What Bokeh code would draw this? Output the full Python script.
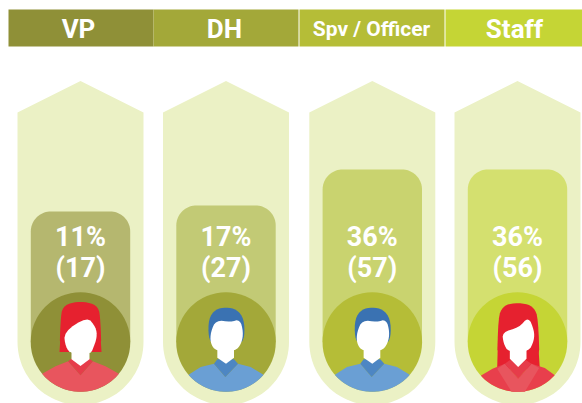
import numpy as np
from bokeh.plotting import figure, ColumnDataSource
from bokeh.models import Range1d
from bokeh.core.properties import value
from bokeh.embed import file_html
from bokeh.resources import INLINE

# Data
groups = ["VP", "DH", "Spv / Officer", "Staff"]
percent = [11, 17, 36, 36]
counts = [17, 27, 57, 56]
fill_top = [211, 205, 169, 169]   # top of each inner bar, on the pixel-like y scale

# Styles
header_left = [8, 153, 299, 445]
header_right = [153, 298, 444, 582]
header_cx = [78, 224, 371, 514]
header_size = ["26px", "26px", "21px", "26px"]
head_col = ["#8F9037", "#A3A839", "#B5BD37", "#C5D535"]
bar_col = ["#B5B76F", "#C2CA75", "#C9D36F", "#D4E06F"]
cx = [80, 225.5, 371.8, 517]
gender = ["w", "m", "m", "wl"]
SHELL = "#EBF1C5"
CY, R_IN = 341.5, 49.8
HALF_SHELL, APEX, SHOULDER = 63, 80.5, 112
HALF_BAR = 49.7
CORNER = 20

p = figure(width=582, height=403, x_range=Range1d(0, 582), y_range=Range1d(403, 0),
           toolbar_location=None, output_backend="svg", min_border=0,
           outline_line_color=None, background_fill_color="white", border_fill_color="white")
p.xaxis.visible = False
p.yaxis.visible = False
p.grid.visible = False


def arc(c_x, c_y, r, a0, a1, n=50):
    t = np.radians(np.linspace(a0, a1, n))
    return list(c_x + r * np.cos(t)), list(c_y + r * np.sin(t))


def chaikin(pts, it=2):
    pts = np.array(pts, float)
    for _ in range(it):
        q = np.roll(pts, -1, axis=0)
        pts = np.stack([0.75 * pts + 0.25 * q, 0.25 * pts + 0.75 * q], axis=1).reshape(-1, 2)
    return pts


def shape(c, pts, color, smooth=False):
    pts = chaikin(pts) if smooth else np.array(pts, float)
    p.patch(c + pts[:, 0] / 3, CY + pts[:, 1] / 3, fill_color=color, line_color=None)


def bust(c, pts, color):
    # shoulders follow the given points, the lower edge follows the circle
    pts = np.array(pts, float)
    a0 = np.degrees(np.arctan2(pts[-1, 1], pts[-1, 0]))
    a1 = np.degrees(np.arctan2(pts[0, 1], pts[0, 0]))
    ax, ay = arc(0, 0, R_IN * 3, a0, a1)
    xs = np.r_[pts[:, 0], ax]
    ys = np.r_[pts[:, 1], ay]
    p.patch(c + xs / 3, CY + ys / 3, fill_color=color, line_color=None)


def woman_short(c):
    shape(c, [(-63, 30), (-60, -65), (-54, -106), (-22, -120), (22, -120), (54, -106), (60, -65), (63, 30)], "#E6212F", True)
    shape(c, [(-63, 30), (-60, -20), (60, -20), (63, 30)], "#E6212F")
    bust(c, [(-115, 95), (-75, 73), (-37, 58), (0, 100), (37, 58), (75, 73), (115, 95)], "#E8555E")
    shape(c, [(-37, 58), (-27, 50), (27, 50), (37, 58), (0, 100)], "#E63C4A")
    shape(c, [(-50, -30), (20, -76), (46, -45), (50, -15), (36, 25), (28, 35), (-28, 35), (-45, 15)], "white", True)
    shape(c, [(-27, 15), (27, 15), (27, 52), (0, 72), (-27, 52)], "white")


def woman_long(c):
    bust_pts = [(-108, 100), (-75, 80), (-38, 65), (2, 110), (42, 65), (82, 78), (112, 100)]
    shape(c, [(-61, 80), (-58, -75), (-44, -106), (-20, -116), (25, -116), (50, -102), (62, -72), (67, 80)], "#E6212F", True)
    shape(c, [(-61, 80), (-58, -30), (60, -30), (67, 80)], "#E6212F")
    bust(c, bust_pts, "#E83F4C")
    shape(c, [(-61, 80), (-38, 65), (2, 110), (42, 65), (65, 78), (22, 149), (-18, 149)], "#E8555E")
    shape(c, [(-38, 65), (-24, 55), (26, 55), (42, 65), (2, 110)], "#E63C4A")
    shape(c, [(-46, -30), (4, -43), (33, -76), (50, -35), (50, -5), (33, 30), (-27, 30), (-42, 5)], "white", True)
    shape(c, [(-23, 10), (27, 10), (27, 50), (2, 75), (-23, 50)], "white")


def man(c):
    bust(c, [(-110, 97), (-76, 75), (-36, 65), (-2, 105), (36, 65), (74, 75), (110, 97)], "#6A9FD4")
    shape(c, [(-36, 65), (-26, 52), (24, 52), (36, 65), (-2, 105)], "#4D86C3")
    shape(c, [(-53, -15), (-52, -70), (-32, -98), (0, -104), (32, -98), (54, -70), (56, -15), (42, 8), (-40, 8)], "#3A72B2", True)
    shape(c, [(-46, -30), (-30, -66), (14, -60), (42, -68), (52, -30), (47, 3), (28, 28), (-30, 28), (-47, 3)], "white", True)
    shape(c, [(-26, 10), (24, 10), (24, 47), (0, 65), (-26, 47)], "white")


# Header band
p.quad(left=header_left, right=header_right, top=[9] * 4, bottom=[46] * 4,
       fill_color=head_col, line_color=None)

# Shells, bars, circles, figures
for i, c in enumerate(cx):
    ax, ay = arc(c, CY, HALF_SHELL, 0, 180)
    xs = [c, c + HALF_SHELL] + ax + [c - HALF_SHELL]
    ys = [APEX, SHOULDER] + ay + [SHOULDER]
    p.patch(xs, ys, fill_color=SHELL, line_color=None)

    t = fill_top[i]
    ax1, ay1 = arc(c - HALF_BAR + CORNER, t + CORNER, CORNER, 180, 270, 20)
    ax2, ay2 = arc(c + HALF_BAR - CORNER, t + CORNER, CORNER, 270, 360, 20)
    p.patch(ax1 + ax2 + [c + HALF_BAR, c - HALF_BAR], ay1 + ay2 + [CY, CY],
            fill_color=bar_col[i], line_color=None)

p.scatter(x=cx, y=[CY] * 4, size=2 * R_IN, marker="circle", fill_color=head_col, line_color=None)

for c, g in zip(cx, gender):
    {"w": woman_short, "m": man, "wl": woman_long}[g](c)

# Texts
src = ColumnDataSource(dict(x=header_cx, y=[28.5] * 4, t=groups, s=header_size))
p.text(x="x", y="y", text="t", text_font_size="s", source=src, text_font=value("Roboto"),
       text_font_style="bold", text_color="white", text_align="center", text_baseline="middle")
p.text(x=cx, y=[236] * 4, text=[f"{v}%" for v in percent], text_font=value("Roboto"),
       text_font_style="bold", text_font_size="27px", text_color="white",
       text_align="center", text_baseline="middle")
p.text(x=cx, y=[267] * 4, text=[f"({v})" for v in counts], text_font=value("Roboto"),
       text_font_style="bold", text_font_size="27px", text_color="white",
       text_align="center", text_baseline="middle")

open("out.html", "w").write(file_html(p, INLINE))
